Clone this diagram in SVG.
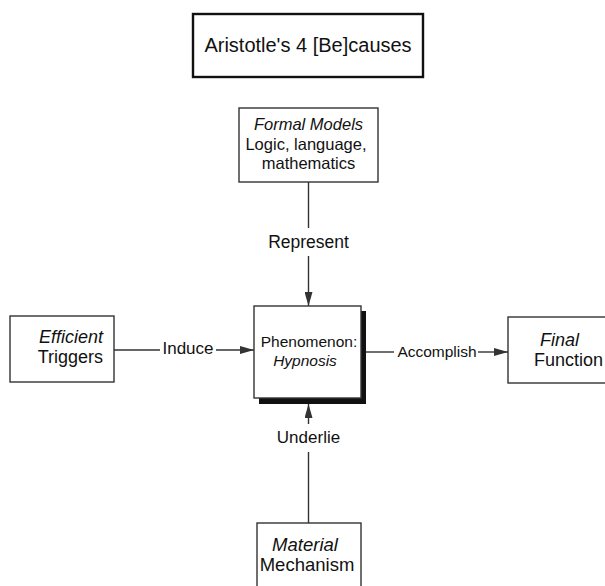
<svg xmlns="http://www.w3.org/2000/svg" width="605" height="586" viewBox="0 0 605 586">
<style>
text{font-family:"Liberation Sans",Arial,sans-serif;fill:#111}
.box{fill:#fff;stroke:#333;stroke-width:1.4}
.ln{stroke:#333;stroke-width:1.4;fill:none}
.it{font-style:italic}
</style>
<defs>
<marker id="ah" viewBox="0 0 14 8" refX="14" refY="4" markerWidth="14" markerHeight="8" markerUnits="userSpaceOnUse" orient="auto">
<path d="M0,0 L14,4 L0,8 Z" fill="#333"/>
</marker>
</defs>
<rect width="605" height="586" fill="#fff"/>
<g id="title">
<rect x="193" y="14" width="230" height="63" fill="#fff" stroke="#111" stroke-width="2.4"/>
<text x="308" y="52" font-size="20" text-anchor="middle">Aristotle's 4 [Be]causes</text>
</g>
<g id="connectors">
<line class="ln" x1="308.5" y1="182" x2="308.5" y2="228"/>
<line class="ln" x1="308.5" y1="256" x2="308.5" y2="306" marker-end="url(#ah)"/>
<text x="308.5" y="248" font-size="17.5" text-anchor="middle">Represent</text>
<line class="ln" x1="114" y1="350" x2="160" y2="350"/>
<line class="ln" x1="216" y1="350" x2="254" y2="350" marker-end="url(#ah)"/>
<text x="188" y="354" font-size="17" text-anchor="middle">Induce</text>
<line class="ln" x1="366" y1="352" x2="394" y2="352"/>
<line class="ln" x1="478" y1="352" x2="508" y2="352" marker-end="url(#ah)"/>
<text x="437" y="357" font-size="15.5" text-anchor="middle">Accomplish</text>
<line class="ln" x1="308.5" y1="523" x2="308.5" y2="452"/>
<line class="ln" x1="308.5" y1="424" x2="308.5" y2="404" marker-end="url(#ah)"/>
<text x="308.5" y="443" font-size="17" text-anchor="middle">Underlie</text>
</g>
<g id="formal">
<rect class="box" x="239" y="108" width="139" height="74"/>
<text x="308.5" y="130" font-size="16.5" text-anchor="middle" class="it">Formal  Models</text>
<text x="306" y="150" font-size="16.5" text-anchor="middle">Logic, language,</text>
<text x="308.5" y="169" font-size="16.5" text-anchor="middle">mathematics</text>
</g>
<g id="phenomenon">
<rect x="259" y="311" width="107" height="93" fill="#111"/>
<rect class="box" x="254" y="306" width="107" height="92"/>
<text x="309" y="347" font-size="15.5" text-anchor="middle">Phenomenon:</text>
<text x="305" y="366" font-size="15.5" text-anchor="middle" class="it">Hypnosis</text>
</g>
<g id="efficient">
<rect class="box" x="10" y="316" width="104" height="66"/>
<text x="103" y="343" font-size="18" text-anchor="end" class="it">Efficient</text>
<text x="103" y="363" font-size="18" text-anchor="end">Triggers</text>
</g>
<g id="final">
<rect class="box" x="508" y="317" width="110" height="66"/>
<text x="540" y="346" font-size="18" class="it">Final</text>
<text x="534" y="366" font-size="18">Function</text>
</g>
<g id="material">
<rect class="box" x="257" y="523" width="104" height="80"/>
<text x="305" y="551" font-size="18.5" text-anchor="middle" class="it">Material</text>
<text x="307" y="571" font-size="18.5" text-anchor="middle">Mechanism</text>
</g>
</svg>
